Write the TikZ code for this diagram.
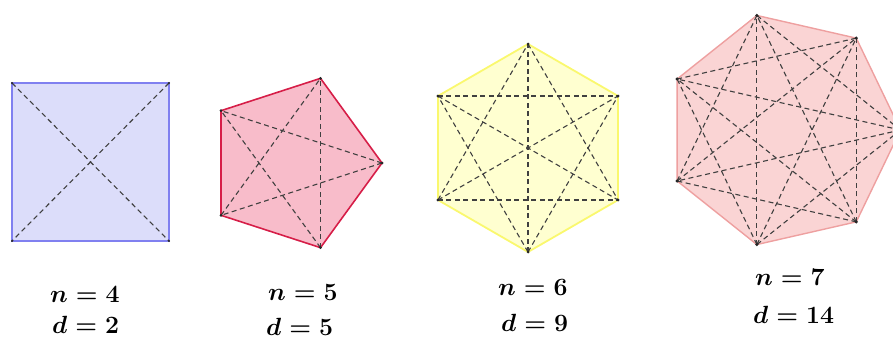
\documentclass[tikz,border=0pt]{standalone}
\definecolor{sqfill}{RGB}{220, 221, 250}
\definecolor{sqline}{RGB}{128, 128, 240}
\definecolor{pafill}{RGB}{248, 188, 202}
\definecolor{paline}{RGB}{214, 30, 72}
\definecolor{hxfill}{RGB}{255, 255, 208}
\definecolor{hxline}{RGB}{250, 248, 110}
\definecolor{hpfill}{RGB}{250, 212, 212}
\definecolor{hpline}{RGB}{238, 160, 160}
\usepackage{amsmath, amssymb}
\usepackage{tikz}

\begin{document}
\begin{tikzpicture}[x=1pt, y=-1pt,
  diag/.style={dash pattern=on 5pt off 3.5pt, line width=1.1pt, draw=black!75},
  vdot/.style={fill=black!85},
  lbl/.style={anchor=base west, inner sep=0pt, font=\fontsize{27}{32}\selectfont\boldmath},
]
\useasboundingbox (0,0) rectangle (893,340);

% Square (n = 4)
\coordinate (sq1) at (12,83);
\coordinate (sq2) at (169,83);
\coordinate (sq3) at (169,241);
\coordinate (sq4) at (12,241);
\draw[sqline, fill=sqfill, line width=1.3pt] (sq1) -- (sq2) -- (sq3) -- (sq4) -- cycle;
\foreach \a/\b in {1/3, 2/4} \draw[diag] (sq\a) -- (sq\b);
\foreach \i in {1,...,4} \fill[vdot] (sq\i) circle (1.2);

% Pentagon (n = 5)
\foreach \i in {1,...,5} \coordinate (pa\i) at ([shift={(293,163)}]\i*72-72:89);
\draw[paline, fill=pafill, line width=1.6pt] (pa1) -- (pa2) -- (pa3) -- (pa4) -- (pa5) -- cycle;
\foreach \a/\b in {1/3, 1/4, 2/4, 2/5, 3/5} \draw[diag] (pa\a) -- (pa\b);
\foreach \i in {1,...,5} \fill[vdot] (pa\i) circle (1.5);

% Hexagon (n = 6)
\foreach \i in {1,...,6} \coordinate (hx\i) at ([shift={(528,148)}]\i*60+30:104);
\draw[hxline, fill=hxfill, line width=1.8pt] (hx1) -- (hx2) -- (hx3) -- (hx4) -- (hx5) -- (hx6) -- cycle;
\foreach \a/\b in {1/3, 1/4, 1/5, 2/4, 2/5, 2/6, 3/5, 3/6, 4/6} \draw[diag] (hx\a) -- (hx\b);
\foreach \i in {1,...,6} \fill[vdot] (hx\i) circle (1.5);

% Heptagon (n = 7)
\foreach \i in {1,...,7} \coordinate (hp\i) at ([shift={(783,130)}]\i*51.4286-51.4286:117.5);
\draw[hpline, fill=hpfill, line width=1.4pt] (hp1) -- (hp2) -- (hp3) -- (hp4) -- (hp5) -- (hp6) -- (hp7) -- cycle;
\foreach \a/\b in {1/3, 1/4, 1/5, 1/6, 2/4, 2/5, 2/6, 2/7, 3/5, 3/6, 3/7, 4/6, 4/7, 5/7} \draw[diag] (hp\a) -- (hp\b);
\foreach \i in {1,...,7} \fill[vdot] (hp\i) circle (1.8);

% Labels
\node[lbl] (n4) at (50,302) {$n = 4$};
\node[lbl] (d4) at (52,333) {$d = 2$};
\node[lbl] (n5) at (268,300) {$n = 5$};
\node[lbl] (d5) at (266,335) {$d = 5$};
\node[lbl] (n6) at (498,295) {$n = 6$};
\node[lbl] (d6) at (501,331) {$d = 9$};
\node[lbl] (n7) at (755,285) {$n = 7$};
\node[lbl] (d7) at (753,323) {$d = 14$};
\end{tikzpicture}
\end{document}
